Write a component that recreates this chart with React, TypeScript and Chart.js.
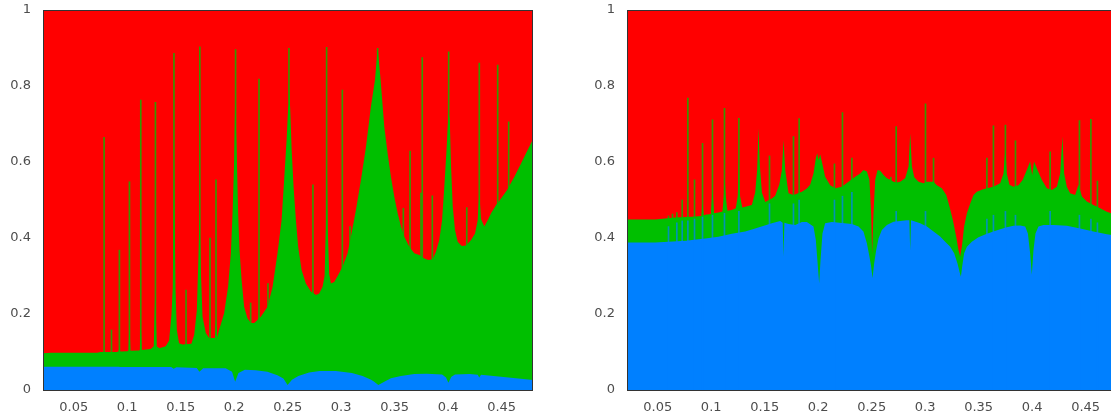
import React, { useEffect, useRef } from "react";
import { Chart, registerables } from "chart.js";

Chart.register(...registerables);

type P = [number, number];

const X_MIN = 0.0213;
const X_MAX = 0.4793;
const X_TICK_STEP = 0.05;
const Y_TICK_STEP = 0.2;

const RED = "#ff0000";
const GREEN = "#00bf00";
const BLUE = "#0080ff";

// top of red share (always 1)
const redTop: P[] = [[X_MIN, 1], [X_MAX, 1]];

// ---------- LEFT PANEL ----------
const leftBlueTop: P[] = [
  [0.0213, 0.0614], [0.092, 0.0614], [0.0935, 0.0605], [0.141, 0.0605], [0.1435, 0.056], [0.146, 0.06],
  [0.165, 0.058], [0.1675, 0.048], [0.171, 0.057], [0.192, 0.057], [0.198, 0.048], [0.2009, 0.022],
  [0.204, 0.045], [0.21, 0.053], [0.22, 0.052], [0.231, 0.048], [0.2404, 0.039], [0.246, 0.03],
  [0.2499, 0.013], [0.254, 0.027], [0.26, 0.037], [0.27, 0.046], [0.28, 0.05], [0.295, 0.05],
  [0.31, 0.045], [0.32, 0.037], [0.328, 0.027], [0.3309, 0.022], [0.3347, 0.013], [0.3403, 0.022],
  [0.3465, 0.031], [0.3559, 0.037], [0.3683, 0.042], [0.38, 0.043], [0.3943, 0.041], [0.398, 0.033],
  [0.4002, 0.019], [0.403, 0.035], [0.4064, 0.041], [0.42, 0.042], [0.4276, 0.04], [0.4291, 0.033],
  [0.4307, 0.04], [0.4494, 0.035], [0.4793, 0.026],
];

const leftGreenTop: P[] = [
  [0.0213, 0.0965], [0.029, 0.098], [0.072, 0.098], [0.075, 0.1], [0.09, 0.1],
  [0.092, 0.101], [0.0927, 0.115], [0.0935, 0.101],
  [0.1, 0.102], [0.1012, 0.103], [0.1021, 0.176], [0.103, 0.103],
  [0.111, 0.104], [0.1118, 0.105], [0.1127, 0.17], [0.1136, 0.105],
  [0.122, 0.108], [0.1248, 0.115], [0.1262, 0.259], [0.1276, 0.115],
  [0.13, 0.11], [0.136, 0.115], [0.1392, 0.13], [0.1414, 0.2], [0.1426, 0.27], [0.1433, 0.447],
  [0.1438, 0.605], [0.1444, 0.447], [0.1451, 0.27], [0.1464, 0.158], [0.1485, 0.123], [0.1517, 0.12],
  [0.16, 0.122], [0.1626, 0.145], [0.1651, 0.21], [0.1667, 0.36], [0.1676, 0.466], [0.1688, 0.316],
  [0.1704, 0.193], [0.1735, 0.15], [0.1766, 0.137],
  [0.182, 0.137], [0.183, 0.19], [0.184, 0.138],
  [0.1859, 0.158], [0.1906, 0.202], [0.1943, 0.272], [0.1969, 0.36], [0.1985, 0.466], [0.2, 0.605],
  [0.2009, 0.763], [0.2025, 0.605], [0.2037, 0.466], [0.205, 0.368], [0.2069, 0.29], [0.2093, 0.219],
  [0.2124, 0.189], [0.2156, 0.176], [0.2187, 0.176], [0.2218, 0.184], [0.2228, 0.19], [0.2232, 0.22],
  [0.2236, 0.19], [0.2249, 0.193], [0.2312, 0.219], [0.2359, 0.272], [0.2405, 0.36], [0.2443, 0.447],
  [0.2467, 0.553], [0.249, 0.658], [0.2505, 0.746], [0.2511, 0.81], [0.2524, 0.737], [0.2537, 0.632],
  [0.2555, 0.535], [0.2577, 0.447], [0.2598, 0.377], [0.263, 0.316], [0.267, 0.28], [0.2717, 0.259],
  [0.2764, 0.25], [0.2795, 0.254], [0.2826, 0.272], [0.2845, 0.3], [0.2857, 0.42], [0.2866, 0.6],
  [0.2875, 0.42], [0.2888, 0.306], [0.2904, 0.28], [0.2935, 0.284], [0.2967, 0.3], [0.3014, 0.325],
  [0.306, 0.36], [0.3091, 0.403], [0.3138, 0.474], [0.3185, 0.553], [0.3232, 0.64], [0.3278, 0.746],
  [0.3316, 0.816], [0.3341, 0.899], [0.3366, 0.825], [0.3403, 0.693], [0.3434, 0.623], [0.3465, 0.561],
  [0.3496, 0.509], [0.3528, 0.465], [0.3559, 0.43], [0.359, 0.403], [0.3637, 0.377], [0.3683, 0.36],
  [0.373, 0.355], [0.3777, 0.346], [0.3814, 0.342], [0.3855, 0.344], [0.3886, 0.364], [0.3917, 0.395],
  [0.3943, 0.447], [0.3964, 0.535], [0.3983, 0.623], [0.3996, 0.693], [0.4004, 0.728], [0.4015, 0.711],
  [0.4027, 0.588], [0.4043, 0.482], [0.4064, 0.421], [0.4089, 0.39], [0.4127, 0.379], [0.4167, 0.38],
  [0.4214, 0.395], [0.4251, 0.412], [0.4276, 0.447], [0.4291, 0.518], [0.4307, 0.45], [0.4338, 0.43],
  [0.437, 0.447], [0.4401, 0.465], [0.4448, 0.487], [0.4494, 0.504], [0.4551, 0.526], [0.4619, 0.561],
  [0.4681, 0.596], [0.4744, 0.632], [0.4793, 0.66],
];

const leftGreenSpikes: P[] = [
  [0.0784, 0.665], [0.0853, 0.158], [0.0927, 0.368], [0.1021, 0.548], [0.1127, 0.763], [0.1264, 0.757],
  [0.1437, 0.886], [0.155, 0.263], [0.1679, 0.903], [0.1774, 0.4], [0.183, 0.553], [0.2013, 0.896],
  [0.2154, 0.229], [0.2232, 0.818], [0.2316, 0.28], [0.2512, 0.899], [0.2736, 0.54], [0.2864, 0.902],
  [0.3011, 0.789], [0.3083, 0.43], [0.3341, 0.899], [0.3581, 0.478], [0.3644, 0.629], [0.3746, 0.518],
  [0.3758, 0.875], [0.3852, 0.511], [0.4005, 0.89], [0.4174, 0.48], [0.4291, 0.86], [0.4463, 0.855],
  [0.4566, 0.706],
];

// ---------- RIGHT PANEL ----------
const rightBlueTop: P[] = [
  [0.0213, 0.388], [0.0477, 0.388], [0.06, 0.39], [0.0766, 0.393], [0.082, 0.395], [0.0944, 0.399],
  [0.1068, 0.403], [0.1193, 0.411], [0.1318, 0.417], [0.1411, 0.425], [0.1567, 0.439], [0.1645, 0.445],
  [0.1668, 0.44], [0.1676, 0.351], [0.1684, 0.44], [0.1723, 0.437], [0.1785, 0.434], [0.1848, 0.442],
  [0.1894, 0.442], [0.1956, 0.43], [0.1978, 0.395], [0.1997, 0.325], [0.2009, 0.281], [0.2022, 0.342],
  [0.204, 0.412], [0.2065, 0.439], [0.2128, 0.442], [0.2315, 0.437], [0.2377, 0.43], [0.2423, 0.417],
  [0.2455, 0.386], [0.2479, 0.351], [0.2495, 0.325], [0.2508, 0.294], [0.2523, 0.333], [0.2542, 0.368],
  [0.2564, 0.399], [0.2595, 0.421], [0.2642, 0.434], [0.2704, 0.443], [0.2829, 0.447], [0.2852, 0.447],
  [0.286, 0.368], [0.2868, 0.447], [0.2953, 0.439], [0.3016, 0.43], [0.3078, 0.417], [0.314, 0.404],
  [0.3187, 0.39], [0.3234, 0.377], [0.3271, 0.36], [0.3302, 0.333], [0.3321, 0.311], [0.3334, 0.298],
  [0.3346, 0.325], [0.3364, 0.36], [0.339, 0.377], [0.3436, 0.39], [0.3498, 0.402], [0.3577, 0.411],
  [0.3638, 0.417], [0.3701, 0.423], [0.3764, 0.428], [0.3825, 0.432], [0.3888, 0.433], [0.3935, 0.43],
  [0.396, 0.412], [0.3981, 0.36], [0.3997, 0.303], [0.4012, 0.368], [0.4031, 0.412], [0.4059, 0.43],
  [0.4106, 0.434], [0.4199, 0.434], [0.4324, 0.432], [0.4449, 0.425], [0.4573, 0.417], [0.4698, 0.41],
  [0.4793, 0.406],
];

const rightGreenTop: P[] = [
  [0.0213, 0.449], [0.0477, 0.449], [0.0664, 0.454], [0.082, 0.456], [0.0908, 0.458], [0.0919, 0.49],
  [0.093, 0.459], [0.0944, 0.461], [0.0998, 0.463], [0.1012, 0.53], [0.1026, 0.465], [0.1068, 0.467],
  [0.1105, 0.47], [0.1118, 0.51], [0.1126, 0.56], [0.1136, 0.51], [0.1152, 0.472], [0.1193, 0.474],
  [0.123, 0.478], [0.1248, 0.51], [0.1259, 0.6], [0.127, 0.51], [0.129, 0.48], [0.1318, 0.482],
  [0.138, 0.487], [0.1411, 0.52], [0.143, 0.58], [0.1442, 0.689], [0.1455, 0.59], [0.1474, 0.52],
  [0.1505, 0.495], [0.1567, 0.504], [0.1598, 0.511], [0.1636, 0.54], [0.1661, 0.579], [0.1676, 0.658],
  [0.1692, 0.579], [0.1723, 0.518], [0.1769, 0.513], [0.1848, 0.522], [0.1894, 0.53], [0.1925, 0.54],
  [0.1956, 0.57], [0.1978, 0.61], [0.1991, 0.623], [0.2003, 0.605], [0.2019, 0.62], [0.2035, 0.6],
  [0.2065, 0.561], [0.2112, 0.539], [0.2159, 0.531], [0.2221, 0.535], [0.2283, 0.548], [0.2346, 0.561],
  [0.2393, 0.57], [0.2423, 0.579], [0.2455, 0.575], [0.2479, 0.553], [0.2495, 0.465], [0.2504, 0.36],
  [0.2517, 0.465], [0.2533, 0.553], [0.2555, 0.579], [0.258, 0.577], [0.2611, 0.566], [0.2642, 0.557],
  [0.2673, 0.553], [0.2704, 0.548], [0.2735, 0.546], [0.2766, 0.548], [0.2813, 0.557], [0.2845, 0.588],
  [0.286, 0.675], [0.2876, 0.588], [0.2898, 0.56], [0.2938, 0.548], [0.2985, 0.544], [0.3016, 0.548],
  [0.3078, 0.548], [0.3109, 0.539], [0.3156, 0.531], [0.3197, 0.513], [0.3228, 0.482], [0.3259, 0.447],
  [0.329, 0.403], [0.3312, 0.368], [0.3327, 0.351], [0.3343, 0.377], [0.3364, 0.43], [0.339, 0.465],
  [0.3421, 0.491], [0.3452, 0.513], [0.3483, 0.522], [0.353, 0.527], [0.3577, 0.531], [0.3638, 0.535],
  [0.3701, 0.544], [0.3732, 0.57], [0.375, 0.636], [0.3763, 0.57], [0.3788, 0.54], [0.3825, 0.535],
  [0.3872, 0.539], [0.3912, 0.553], [0.395, 0.579], [0.3981, 0.601], [0.4, 0.565], [0.4018, 0.601],
  [0.405, 0.579], [0.409, 0.553], [0.4137, 0.531], [0.4184, 0.526], [0.4231, 0.535], [0.4262, 0.57],
  [0.4283, 0.667], [0.4299, 0.57], [0.4324, 0.535], [0.4355, 0.518], [0.4402, 0.513], [0.4433, 0.54],
  [0.4465, 0.509], [0.4511, 0.496], [0.4573, 0.487], [0.4636, 0.478], [0.4698, 0.469], [0.4738, 0.465],
  [0.4793, 0.46],
];

const rightGreenSpikes: P[] = [
  [0.0601, 0.458], [0.0638, 0.463], [0.0679, 0.467], [0.0729, 0.5], [0.0782, 0.768], [0.0844, 0.553],
  [0.0919, 0.649], [0.1012, 0.711], [0.1124, 0.741], [0.1259, 0.715], [0.1545, 0.616], [0.1769, 0.667],
  [0.1822, 0.714], [0.2152, 0.595], [0.2227, 0.73], [0.2315, 0.61], [0.2679, 0.56], [0.2729, 0.693],
  [0.3003, 0.753], [0.3078, 0.61], [0.3577, 0.61], [0.3638, 0.695], [0.375, 0.697], [0.3844, 0.656],
  [0.4168, 0.627], [0.4442, 0.709], [0.4549, 0.712], [0.461, 0.55],
];

const rightBlueSpikes: P[] = [
  [0.0601, 0.43], [0.0679, 0.44], [0.0729, 0.445], [0.0782, 0.445], [0.0844, 0.45], [0.0919, 0.455],
  [0.1012, 0.46], [0.1124, 0.465], [0.1259, 0.47], [0.1545, 0.49], [0.1769, 0.49], [0.1822, 0.5],
  [0.2152, 0.5], [0.2227, 0.51], [0.2315, 0.52], [0.2729, 0.47], [0.3003, 0.47], [0.3577, 0.45],
  [0.3638, 0.46], [0.375, 0.47], [0.3844, 0.46], [0.4168, 0.47], [0.4442, 0.46], [0.4549, 0.45],
  [0.461, 0.44],
];

const framePlugin = {
  id: "frame",
  afterDraw(chart: any) {
    const { ctx, chartArea: a } = chart;
    ctx.save();
    ctx.strokeStyle = "#333333";
    ctx.lineWidth = 1;
    ctx.strokeRect(a.left + 0.5, a.top + 0.5, a.right - a.left - 1, a.bottom - a.top);
    ctx.restore();
  },
};

const toXY = (arr: P[]) => arr.map(([x, y]) => ({ x, y }));

const tickFont = { family: "'DejaVu Sans', sans-serif", size: 13 };
const tickColor = "#4d4d4d";
const fmt = (v: any) => String(Number(Number(v).toFixed(3)));

function Panel(props: { left: number; blue: P[]; green: P[]; greenSpikes: P[]; blueSpikes: P[] }) {
  const ref = useRef<HTMLCanvasElement>(null);
  useEffect(() => {
    const area = (data: P[], color: string, order: number) => ({
      type: "line",
      data: toXY(data),
      order,
      fill: "origin",
      backgroundColor: color,
      borderColor: "rgba(0,0,0,0)",
      borderWidth: 0,
      pointRadius: 0,
      tension: 0,
    });
    const spikes = (data: P[], color: string, order: number) => ({
      type: "bar",
      data: toXY(data),
      order,
      backgroundColor: color,
      borderWidth: 0,
      barThickness: 1,
      grouped: false,
    });
    const datasets: any[] = [
      area(redTop, RED, 5),
      spikes(props.greenSpikes, "rgba(0,191,0,0.8)", 4),
      area(props.green, GREEN, 3),
      area(props.blue, BLUE, 2),
    ];
    if (props.blueSpikes.length) datasets.push(spikes(props.blueSpikes, "rgba(0,128,255,0.7)", 1));

    const chart = new Chart(ref.current as HTMLCanvasElement, {
      type: "line",
      data: { datasets },
      options: {
        animation: false,
        responsive: false,
        events: [],
        layout: { padding: { top: 10, right: 7, left: 0, bottom: 0 } },
        plugins: { legend: { display: false }, tooltip: { enabled: false } },
        scales: {
          x: {
            type: "linear",
            min: X_MIN,
            max: X_MAX,
            offset: false,
            grid: { display: false, drawTicks: false, offset: false },
            border: { display: false },
            ticks: {
              stepSize: X_TICK_STEP,
              includeBounds: false,
              autoSkip: false,
              maxRotation: 0,
              padding: 10,
              font: tickFont,
              color: tickColor,
              callback: fmt,
            },
            afterFit: (s: any) => {
              s.height = 26;
              s.paddingLeft = 0;
              s.paddingRight = 0;
            },
          },
          y: {
            type: "linear",
            min: 0,
            max: 1,
            grid: { display: false, drawTicks: false },
            border: { display: false },
            ticks: { stepSize: Y_TICK_STEP, padding: 12, font: tickFont, color: tickColor, callback: fmt },
            afterFit: (s: any) => {
              s.width = 43;
              s.paddingTop = 0;
              s.paddingBottom = 0;
            },
          },
        },
      } as any,
      plugins: [framePlugin],
    });
    return () => chart.destroy();
  }, []);
  return (
    <canvas
      ref={ref}
      width={540}
      height={416}
      style={{ position: "absolute", left: props.left, top: 0, width: 540, height: 416 }}
    />
  );
}

export default function App() {
  return (
    <div
      style={{
        position: "fixed",
        left: 0,
        top: 0,
        width: 1111,
        height: 416,
        overflow: "hidden",
        background: "#ffffff",
      }}
    >
      <Panel left={0} blue={leftBlueTop} green={leftGreenTop} greenSpikes={leftGreenSpikes} blueSpikes={[]} />
      <Panel
        left={584}
        blue={rightBlueTop}
        green={rightGreenTop}
        greenSpikes={rightGreenSpikes}
        blueSpikes={rightBlueSpikes}
      />
    </div>
  );
}
